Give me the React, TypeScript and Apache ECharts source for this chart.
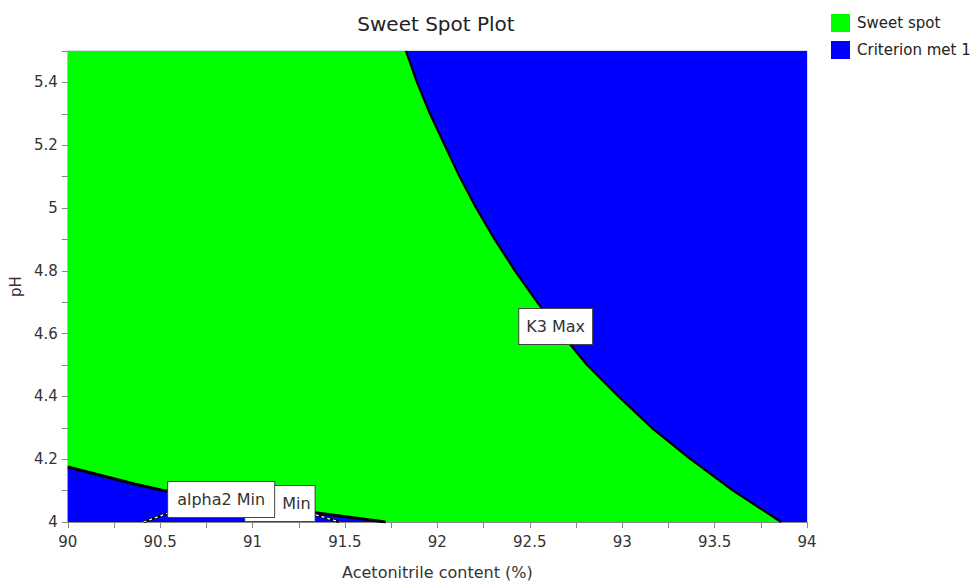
import React, { useEffect, useRef } from "react";
import * as echarts from "echarts";

// Axis settings
const xMin = 90;
const xMax = 94;
const yMin = 4;
const yMax = 5.5;

// Sweet spot covers the whole design space (background region)
const sweetSpotTop: number[][] = [
  [90, 5.5],
  [94, 5.5],
];

// K3 Max boundary (criterion met region lies to the upper right)
const k3Boundary: number[][] = [
  [91.83, 5.5],
  [91.89, 5.4],
  [91.96, 5.3],
  [92.04, 5.2],
  [92.12, 5.1],
  [92.21, 5.0],
  [92.31, 4.9],
  [92.42, 4.8],
  [92.54, 4.7],
  [92.67, 4.6],
  [92.81, 4.5],
  [92.98, 4.4],
  [93.16, 4.3],
  [93.37, 4.2],
  [93.6, 4.1],
  [93.86, 4.0],
];
const k3RegionEnd: number[][] = [[94, 4.0]];

// alpha2 Min boundary (criterion met region lies below)
const alpha2Boundary: number[][] = [
  [90, 4.175],
  [90.36, 4.121],
  [90.52, 4.1],
  [90.9, 4.06],
  [91.36, 4.028],
  [91.72, 4.0],
];

// second "Min" boundary (small region near the bottom)
const minBoundary: number[][] = [
  [90.41, 4.0],
  [90.55, 4.03],
  [91.33, 4.025],
  [91.47, 4.0],
];

// Contour labels (drawn back to front)
const labelNames = ["Min", "alpha2 Min", "K3 Max"];
const labelX = [91.148, 90.83, 92.64];
const labelY = [4.059, 4.072, 4.623];

const GREEN = "#00ff00";
const BLUE = "#0000ff";
const FONT = "DejaVu Sans";

export default function App() {
  const ref = useRef<HTMLDivElement>(null);

  useEffect(() => {
    if (!ref.current) return;
    const chart = echarts.init(ref.current, undefined, { renderer: "svg" });

    const titleGraphic = {
      type: "text",
      x: 436,
      y: 24,
      style: {
        text: "Sweet Spot Plot",
        fontFamily: FONT,
        fontSize: 20,
        fill: "#222",
        align: "center",
        verticalAlign: "middle",
      },
    };

    const option: any = {
      animation: false,
      textStyle: { fontFamily: FONT },
      legend: {
        orient: "vertical",
        left: 826,
        top: 9,
        itemWidth: 19,
        itemHeight: 18,
        itemGap: 9,
        icon: "rect",
        data: ["Sweet spot", "Criterion met 1"],
        textStyle: { fontSize: 15, color: "#222", fontFamily: FONT, padding: [0, 0, 0, 2] },
        selectedMode: false,
      },
      grid: {
        left: 63,
        top: 51,
        right: 167,
        bottom: 63,
        show: true,
        borderColor: "#b8c0d0",
        borderWidth: 1,
        backgroundColor: "transparent",
      },
      xAxis: {
        type: "value",
        min: xMin,
        max: xMax,
        interval: 0.5,
        name: "Acetonitrile content (%)",
        nameLocation: "middle",
        nameGap: 42,
        nameTextStyle: { fontSize: 16, color: "#333", fontFamily: FONT },
        axisLine: { show: true, onZero: false, lineStyle: { color: "#888" } },
        axisTick: { show: true, length: 6, lineStyle: { color: "#888" } },
        minorTick: { show: true, splitNumber: 2, length: 6, lineStyle: { color: "#888" } },
        axisLabel: { fontSize: 15, color: "#333", margin: 12, fontFamily: FONT },
        splitLine: { show: false },
      },
      yAxis: {
        type: "value",
        min: yMin,
        max: yMax,
        interval: 0.2,
        name: "pH",
        nameLocation: "middle",
        nameGap: 44,
        nameRotate: 90,
        nameTextStyle: { fontSize: 15, color: "#333", fontFamily: FONT, padding: [0, 0, 0, 0] },
        axisLine: { show: true, onZero: false, lineStyle: { color: "#888" } },
        axisTick: { show: true, length: 6, lineStyle: { color: "#888" } },
        minorTick: { show: true, splitNumber: 2, length: 6, lineStyle: { color: "#888" } },
        axisLabel: { fontSize: 15, color: "#333", margin: 10, showMaxLabel: false, fontFamily: FONT },
        splitLine: { show: false },
      },
      series: [
        {
          name: "Sweet spot",
          type: "line",
          data: sweetSpotTop,
          showSymbol: false,
          symbol: "none",
          itemStyle: { color: GREEN },
          lineStyle: { width: 0, color: GREEN },
          areaStyle: { color: GREEN, opacity: 1, origin: "start" },
          silent: true,
          z: 1,
        },
        {
          name: "Criterion met 1",
          type: "line",
          data: [...k3Boundary, ...k3RegionEnd],
          showSymbol: false,
          symbol: "none",
          itemStyle: { color: BLUE },
          lineStyle: { width: 0, color: BLUE },
          areaStyle: { color: BLUE, opacity: 1, origin: "end" },
          silent: true,
          z: 2,
        },
        {
          name: "Criterion met 1",
          type: "line",
          data: alpha2Boundary,
          showSymbol: false,
          symbol: "none",
          itemStyle: { color: BLUE },
          lineStyle: { width: 0, color: BLUE },
          areaStyle: { color: BLUE, opacity: 1, origin: "start" },
          silent: true,
          z: 2,
        },
        {
          name: "K3 Max",
          type: "line",
          data: k3Boundary,
          showSymbol: false,
          symbol: "none",
          lineStyle: { width: 2.2, color: "#000" },
          silent: true,
          z: 3,
        },
        {
          name: "alpha2 Min",
          type: "line",
          data: alpha2Boundary,
          showSymbol: false,
          symbol: "none",
          lineStyle: { width: 3, color: "#000" },
          silent: true,
          z: 3,
        },
        {
          name: "Min line",
          type: "line",
          data: minBoundary,
          showSymbol: false,
          symbol: "none",
          lineStyle: { width: 2.5, color: "#000" },
          silent: true,
          z: 3,
        },
        {
          name: "Min dash",
          type: "line",
          data: minBoundary,
          showSymbol: false,
          symbol: "none",
          lineStyle: { width: 1.2, color: "#fff", type: [3, 3] },
          silent: true,
          z: 4,
        },
      ],
    };

    chart.setOption(option);

    const paddings = [
      [8, 4, 8, 37],
      [8, 9, 8, 9],
      [8, 7, 8, 7],
    ];
    const labelGraphics = labelNames.map((name, i) => {
      const p = chart.convertToPixel({ gridIndex: 0 }, [labelX[i], labelY[i]]) as number[];
      return {
        type: "text",
        x: p[0],
        y: p[1],
        z: 100 + i,
        style: {
          text: name,
          fontFamily: FONT,
          fontSize: 16,
          lineHeight: 19,
          fill: "#333",
          align: "center",
          verticalAlign: "middle",
          backgroundColor: "#ffffff",
          borderColor: "#444",
          borderWidth: 1,
          padding: paddings[i],
        },
      };
    });

    chart.setOption({ graphic: [titleGraphic, ...labelGraphics] });
    return () => chart.dispose();
  }, []);

  return (
    <div
      ref={ref}
      style={{ position: "fixed", left: 0, top: 0, width: 974, height: 585, background: "#fff" }}
    />
  );
}
